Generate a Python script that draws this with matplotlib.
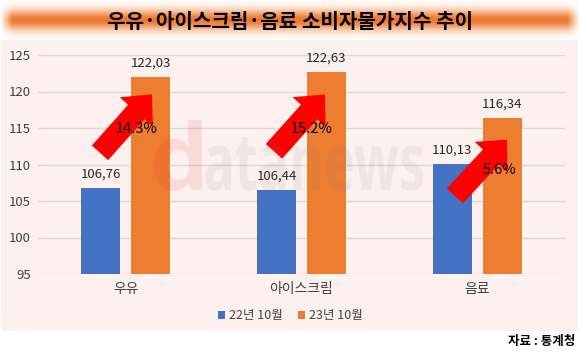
import numpy as np
import matplotlib
matplotlib.use("Agg")
import matplotlib.pyplot as plt
from matplotlib.patches import Rectangle, Patch, ArrowStyle, PathPatch
from matplotlib.textpath import TextPath
from matplotlib.font_manager import FontProperties
from matplotlib.transforms import Affine2D, IdentityTransform
from matplotlib.colors import to_rgb

plt.rcParams['font.family'] = ['Noto Sans CJK KR', 'DejaVu Sans']

# ---- data ----
title = "우유·아이스크림·음료 소비자물가지수 추이"
categories = ["우유", "아이스크림", "음료"]
series_names = ["22년 10월", "23년 10월"]
values_2022 = [106.76, 106.44, 110.13]
values_2023 = [122.03, 122.63, 116.34]
labels_2022 = ["106,76", "106,44", "110,13"]
labels_2023 = ["122,03", "122,63", "116,34"]
pct_labels = ["14.3%", "15.2%", "5.6%"]
yticks = [95, 100, 105, 110, 115, 120, 125]
source = "자료 : 통계청"

BLUE = "#4472C4"
ORANGE = "#ED7D31"
W, H = 580, 354

fig = plt.figure(figsize=(W / 100, H / 100), dpi=100)
fig.patch.set_facecolor("white")

# chart panel background
fig.patches.append(Rectangle((1 / W, 1 - 331 / H), 577 / W, (331 - 40) / H,
                             transform=fig.transFigure, facecolor="#FCF1EF",
                             edgecolor="none", zorder=-5))

# title band with gradient
tax = fig.add_axes([0, 1 - 40 / H, 1, 40 / H])
rows, cols = 40, 580
yy = np.linspace(0, 1, rows)[:, None]
xx = np.arange(cols)[None, :]
v = np.exp(-((yy - 0.5) / 0.26) ** 2)
h = np.clip(np.minimum(xx / 12.0, (cols - 1 - xx) / 12.0), 0, 1)
wgt = (v * h)[..., None]
orange_rgb = np.array(to_rgb("#EE7A2E"))
img = (1 - wgt) * np.ones(3) + wgt * orange_rgb
tax.imshow(img, aspect="auto", extent=[0, 1, 0, 1])
tax.set_axis_off()
fig.text(0.5, 1 - 21 / H, title, ha="center", va="center",
         fontsize=14.5, fontweight="bold", color="black")

# main axes
ax = fig.add_axes([38 / W, 1 - 274 / H, 527 / W, 219 / H])
ax.set_zorder(2)
ax.set_facecolor("none")
x = np.arange(len(categories))
off, bw = 0.142, 0.222
ax.bar(x - off, values_2022, bw, color=BLUE, zorder=2)
ax.bar(x + off, values_2023, bw, color=ORANGE, zorder=2)
ax.set_xlim(-0.5, len(categories) - 0.5)
ax.set_ylim(yticks[0], yticks[-1])
ax.set_yticks(yticks)
ax.set_xticks(x)
ax.set_xticklabels(categories, fontsize=10, color="#404040")
ax.tick_params(axis="y", length=0, pad=5, labelsize=9.5, labelcolor="#404040")
ax.tick_params(axis="x", length=0, pad=6)
ax.yaxis.grid(True, color="#D9D9D9", lw=1)
ax.set_axisbelow(True)
for s in ax.spines.values():
    s.set_visible(False)

# value labels
for xi, v1, l1, v2, l2 in zip(x, values_2022, labels_2022, values_2023, labels_2023):
    ax.annotate(l1, (xi - off, v1), xytext=(0, 10), textcoords="offset points",
                ha="center", va="center", fontsize=9.5, color="#262626", zorder=5)
    ax.annotate(l2, (xi + off, v2), xytext=(0, 10), textcoords="offset points",
                ha="center", va="center", fontsize=9.5, color="#262626", zorder=5)

# red arrows
style = ArrowStyle.Simple(head_length=1.7, head_width=3.2, tail_width=1.58)
arrow_tails = [(-0.147, 111.6), (0.843, 111.8), (1.873, 105.7)]
arrow_tips = [(0.149, 119.6), (1.133, 119.6), (2.17, 113.4)]
pct_pos = [(0.063, 114.9), (1.06, 114.9), (2.13, 109.2)]
for tail, tip, pos, lab in zip(arrow_tails, arrow_tips, pct_pos, pct_labels):
    ax.annotate("", xy=tip, xytext=tail,
                arrowprops=dict(arrowstyle=style, color="#FF0000", shrinkA=0,
                                shrinkB=0, mutation_scale=10, lw=0),
                zorder=6)
    ax.text(pos[0], pos[1], lab, ha="center", va="center", fontsize=10.5,
            color="black", zorder=7)

wm_font = FontProperties(family="Open Sans", weight="bold")


def place_word(word, x0, x1, y_top, y_base, color, alpha):
    tp = TextPath((0, 0), word, size=100, prop=wm_font)
    vx = tp.vertices
    xmin, xmax = vx[:, 0].min(), vx[:, 0].max()
    ymax = vx[:, 1].max()
    sx = (x1 - x0) / (xmax - xmin)
    sy = (y_base - y_top) / ymax
    tr = Affine2D().translate(-xmin, 0).scale(sx, sy).translate(x0, H - y_base)
    patch = PathPatch(tp, transform=tr + IdentityTransform(), facecolor=color,
                      edgecolor="none", alpha=alpha, zorder=8)
    fig.patches.append(patch)


place_word("d", 150, 202, 120, 190, "#E02020", 0.11)
place_word("atanews", 203, 423, 137, 190, "#808080", 0.1)

# legend
handles = [Patch(facecolor=BLUE), Patch(facecolor=ORANGE)]
fig.legend(handles, series_names, loc="center", bbox_to_anchor=(0.5, 1 - 316 / H),
           ncol=2, frameon=False, handlelength=0.6, handleheight=0.6,
           handletextpad=0.3, columnspacing=1.2, fontsize=9,
           labelcolor="#404040")

# source
fig.text(575 / W, 1 - 341 / H, source, ha="right", va="center",
         fontsize=9, fontweight="bold", color="black")

fig.savefig("out.png", dpi=100)
